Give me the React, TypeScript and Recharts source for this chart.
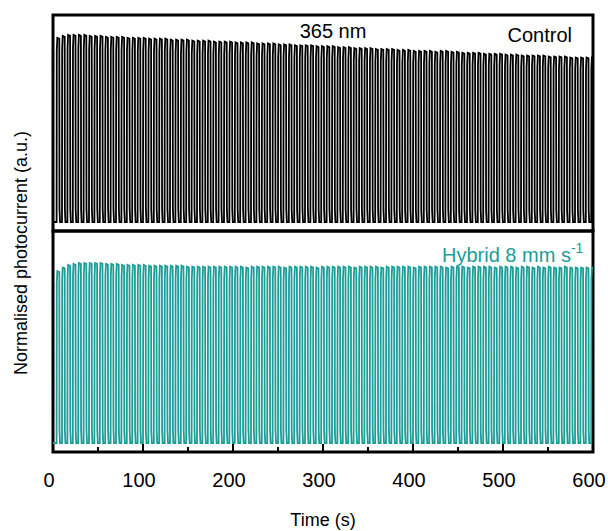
import React from "react";
import { LineChart, Line, XAxis, YAxis, ReferenceArea } from "recharts";

// light switched on every PERIOD seconds, held for ON_TIME seconds
const FIRST_ON = 4;
const PERIOD = 6;
const ON_TIME = 3;

// normalised peak photocurrent of each on/off cycle
const controlPeaks = [
  0.985, 0.995, 1.0, 1.0, 1.0, 1.0, 0.995, 0.995, 0.995, 0.99,
  0.99, 0.99, 0.99, 0.985, 0.985, 0.985, 0.985, 0.98, 0.98, 0.98,
  0.98, 0.975, 0.975, 0.975, 0.975, 0.97, 0.97, 0.97, 0.97, 0.965,
  0.965, 0.965, 0.965, 0.96, 0.96, 0.96, 0.96, 0.955, 0.955, 0.955,
  0.955, 0.95, 0.95, 0.95, 0.945, 0.945, 0.945, 0.945, 0.94, 0.94,
  0.94, 0.94, 0.935, 0.935, 0.935, 0.93, 0.93, 0.93, 0.93, 0.925,
  0.925, 0.925, 0.925, 0.92, 0.92, 0.92, 0.915, 0.915, 0.915, 0.915,
  0.91, 0.915, 0.915, 0.91, 0.91, 0.905, 0.905, 0.905, 0.905, 0.9,
  0.9, 0.9, 0.9, 0.895, 0.895, 0.895, 0.89, 0.89, 0.89, 0.89,
  0.89, 0.885, 0.885, 0.885, 0.885, 0.88, 0.88, 0.88, 0.88, 0.88,
];

const hybridPeaks = [
  0.955, 0.975, 0.99, 0.995, 1.0, 1.0, 1.0, 1.0, 1.0, 0.995,
  0.995, 0.995, 0.99, 0.99, 0.99, 0.99, 0.99, 0.985, 0.985, 0.985,
  0.985, 0.985, 0.985, 0.985, 0.98, 0.98, 0.98, 0.98, 0.98, 0.98,
  0.98, 0.98, 0.98, 0.98, 0.98, 0.975, 0.98, 0.98, 0.98, 0.98,
  0.98, 0.98, 0.975, 0.98, 0.98, 0.98, 0.98, 0.98, 0.975, 0.98,
  0.98, 0.98, 0.98, 0.98, 0.98, 0.975, 0.98, 0.98, 0.98, 0.98,
  0.975, 0.98, 0.98, 0.98, 0.98, 0.98, 0.975, 0.98, 0.98, 0.98,
  0.98, 0.98, 0.975, 0.98, 0.98, 0.98, 0.975, 0.98, 0.98, 0.98,
  0.98, 0.975, 0.98, 0.98, 0.98, 0.975, 0.98, 0.98, 0.975, 0.98,
  0.975, 0.98, 0.975, 0.975, 0.98, 0.975, 0.975, 0.975, 0.975, 0.975,
];

const xTicks = [0, 50, 100, 150, 200, 250, 300, 350, 400, 450, 500, 550, 600];

const TEAL = "#1c9d98";
const FONT = "Arial, 'Liberation Sans', sans-serif";

type Pt = { t: number; v: number };

// turn per-cycle peaks into an on/off trace
function buildTrace(peaks: number[]): Pt[] {
  const pts: Pt[] = [{ t: 0, v: 0 }];
  peaks.forEach((p, i) => {
    const s = FIRST_ON + i * PERIOD;
    pts.push({ t: s, v: 0 });
    pts.push({ t: s + 0.2, v: p * 0.93 });
    pts.push({ t: s + 0.8, v: p });
    pts.push({ t: s + ON_TIME, v: p * 0.995 });
    pts.push({ t: s + ON_TIME + 0.2, v: p * 0.07 });
    pts.push({ t: s + ON_TIME + 0.8, v: 0 });
  });
  return pts;
}

const controlTrace = buildTrace(controlPeaks);
const hybridTrace = buildTrace(hybridPeaks);

// inward ticks, labels only on the hundreds
const TimeTick = (props: any) => {
  const { x, y, payload } = props;
  const major = payload.value % 100 === 0;
  return (
    <g>
      <line x1={x} x2={x} y1={y} y2={y - (major ? 8 : 5)} stroke="#000" strokeWidth={2} />
      {major && (
        <text x={x - 4} y={y + 35} textAnchor="middle" fontSize={20} fontFamily={FONT} fill="#000">
          {payload.value}
        </text>
      )}
    </g>
  );
};

export default function App() {
  return (
    <div style={{ position: "absolute", left: 0, top: 0, width: 608, height: 531, background: "#fff" }}>
      <div style={{ position: "absolute", left: 0, top: 0 }}>
        <LineChart width={608} height={240} data={controlTrace} margin={{ top: 15, right: 15, bottom: 9, left: 53 }}>
          <XAxis dataKey="t" type="number" domain={[0, 600]} allowDataOverflow height={0} tick={false} tickLine={false} axisLine={false} />
          <YAxis type="number" domain={[-0.048, 1.107]} allowDataOverflow width={0} tick={false} tickLine={false} axisLine={false} />
          <Line dataKey="v" type="linear" stroke="#000" strokeWidth={1.8} dot={false} isAnimationActive={false} />
          <ReferenceArea x1={0} x2={600} y1={-0.048} y2={1.107} fill="none" stroke="#000" strokeWidth={3} ifOverflow="visible" />
        </LineChart>
      </div>
      <div style={{ position: "absolute", left: 0, top: 0 }}>
        <LineChart width={608} height={531} data={hybridTrace} margin={{ top: 231, right: 15, bottom: 49, left: 53 }}>
          <XAxis
            dataKey="t"
            type="number"
            domain={[0, 600]}
            allowDataOverflow
            ticks={xTicks}
            interval={0}
            height={30}
            tickSize={0}
            tickMargin={0}
            tickLine={false}
            axisLine={false}
            tick={TimeTick}
            label={{ value: "Time (s)", position: "bottom", offset: 31, fontSize: 18, fontFamily: FONT, fill: "#000" }}
          />
          <YAxis type="number" domain={[-0.05, 1.178]} allowDataOverflow width={0} tick={false} tickLine={false} axisLine={false} />
          <Line dataKey="v" type="linear" stroke={TEAL} strokeWidth={1.8} dot={false} isAnimationActive={false} />
          <ReferenceArea x1={0} x2={600} y1={-0.05} y2={1.178} fill="none" stroke="#000" strokeWidth={3} ifOverflow="visible" />
        </LineChart>
      </div>
      <svg width={608} height={531} style={{ position: "absolute", left: 0, top: 0, pointerEvents: "none" }}>
        <text x={333} y={38} textAnchor="middle" fontSize={20} fontFamily={FONT} fill="#000">365 nm</text>
        <text x={572} y={42} textAnchor="end" fontSize={20} fontFamily={FONT} fill="#000">Control</text>
        <text x={442} y={262} fontSize={20} fontFamily={FONT} fill={TEAL}>
          Hybrid 8 mm s<tspan dy={-9} fontSize={14}>-1</tspan>
        </text>
        <text
          transform="translate(27, 253) rotate(-90)"
          textAnchor="middle"
          fontSize={18}
          fontFamily={FONT}
          fill="#000"
        >
          Normalised photocurrent (a.u.)
        </text>
      </svg>
    </div>
  );
}
